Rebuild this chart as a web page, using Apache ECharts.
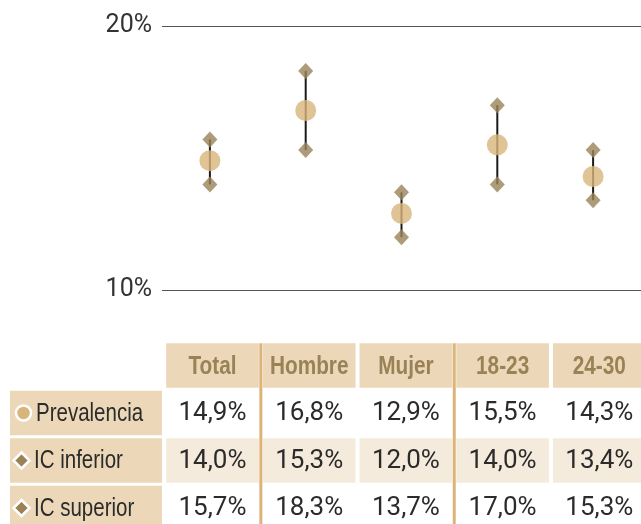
<!DOCTYPE html>
<html>
<head>
<meta charset="utf-8">
<script src="https://cdn.jsdelivr.net/npm/echarts@6/dist/echarts.min.js"></script>
<style>
html,body{margin:0;padding:0;background:#fff;}
#chart{width:641px;height:524px;}
</style>
</head>
<body>
<div id="chart"></div>
<script>
// ---- data ----
var categories = ['Total', 'Hombre', 'Mujer', '18-23', '24-30'];
var prevalencia = [14.9, 16.8, 12.9, 15.5, 14.3];
var icInferior = [14.0, 15.3, 12.0, 14.0, 13.4];
var icSuperior = [15.7, 18.3, 13.7, 17.0, 15.3];
var rowLabels = ['Prevalencia', 'IC inferior', 'IC superior'];
var yMin = 10, yMax = 20, yInterval = 10;
var separatorsBefore = [1, 3]; // table column separators (left of these columns)

// ---- styles ----
var GOLD = '#d8b57c';
var BROWN = '#9a8257';
var CELL_BEIGE = '#ecd8b9';
var ROW_LIGHT = '#f5ebdc';
var SEP = '#dcb478';
var TEXT = '#2b2b2b';
var NARROW_SCALE = 0.82;

var rows = [prevalencia, icInferior, icSuperior];
function fmt(v) { return v.toFixed(1).replace('.', ',') + '%'; }

var tableData = [];
categories.forEach(function (c, ci) { tableData.push([ci, 0]); });
rows.forEach(function (arr, ri) {
  arr.forEach(function (v, ci) { tableData.push([ci, ri + 1]); });
});
var labelData = rowLabels.map(function (l, ri) { return [0, ri + 1]; });

var chart = echarts.init(document.getElementById('chart'));
chart.setOption({
  animation: false,
  grid: [
    { left: 162, right: 0, top: 26, bottom: 234, outerBoundsMode: 'none' },
    { left: 164.15, width: 483.5, top: 341.75, height: 190, outerBoundsMode: 'none' }
  ],
  xAxis: [
    { type: 'category', data: categories, gridIndex: 0, boundaryGap: true,
      axisLine: { show: false }, axisTick: { show: false }, axisLabel: { show: false } },
    { type: 'category', data: categories, gridIndex: 1, show: false }
  ],
  yAxis: [
    { type: 'value', gridIndex: 0, min: yMin, max: yMax, interval: yInterval,
      axisLine: { show: false }, axisTick: { show: false },
      splitLine: { lineStyle: { color: '#555', width: 1 } },
      axisLabel: { formatter: '{value}%', margin: 10, color: '#333',
        fontFamily: 'Roboto', fontSize: 25 } },
    { type: 'category', gridIndex: 1, show: false, inverse: true,
      data: ['header'].concat(rowLabels) }
  ],
  series: [
    {
      type: 'custom', xAxisIndex: 0, yAxisIndex: 0, z: 2,
      data: categories.map(function (c, i) { return [i, icInferior[i], icSuperior[i]]; }),
      renderItem: function (params, api) {
        var a = api.coord([api.value(0), api.value(1)]);
        var b = api.coord([api.value(0), api.value(2)]);
        return { type: 'line', shape: { x1: a[0], y1: a[1], x2: b[0], y2: b[1] },
          style: { stroke: '#1a1a1a', lineWidth: 2 } };
      }
    },
    { type: 'scatter', name: 'IC inferior', xAxisIndex: 0, yAxisIndex: 0, z: 3,
      symbol: 'diamond', symbolSize: [15, 16], itemStyle: { color: BROWN }, data: icInferior },
    { type: 'scatter', name: 'IC superior', xAxisIndex: 0, yAxisIndex: 0, z: 3,
      symbol: 'diamond', symbolSize: [15, 16], itemStyle: { color: BROWN }, data: icSuperior },
    { type: 'scatter', name: 'Prevalencia', xAxisIndex: 0, yAxisIndex: 0, z: 4,
      symbol: 'circle', symbolSize: 21, itemStyle: { color: GOLD }, data: prevalencia },
    // table cells
    {
      type: 'custom', xAxisIndex: 1, yAxisIndex: 1, z: 2, data: tableData,
      renderItem: function (params, api) {
        var ci = api.value(0), ri = api.value(1);
        var p = api.coord([ci, ri]);
        var sz = api.size([1, 1]);
        var isHeader = ri === 0;
        var bg = isHeader ? CELL_BEIGE : (ri === 2 ? ROW_LIGHT : '#ffffff');
        var text = isHeader ? categories[ci] : fmt(rows[ri - 1][ci]);
        return { type: 'group', children: [
          { type: 'rect', shape: { x: p[0] - sz[0] / 2 + 2, y: p[1] - sz[1] / 2 + 1.5,
              width: sz[0] - 4, height: sz[1] - 3 }, style: { fill: bg } },
          { type: 'text', x: p[0], y: p[1] + 1, scaleX: isHeader ? 0.8 : 1.04,
            style: { text: text, x: 0, y: 0,
              align: 'center', verticalAlign: 'middle',
              fill: isHeader ? BROWN : TEXT,
              font: isHeader ? 'bold 26px "Liberation Sans"' : '25px Roboto' } }
        ] };
      }
    },
    // row label cells
    {
      type: 'custom', xAxisIndex: 1, yAxisIndex: 1, z: 2, data: labelData,
      renderItem: function (params, api) {
        var ri = api.value(1);
        var p = api.coord([0, ri]);
        var sz = api.size([1, 1]);
        var top = p[1] - sz[1] / 2 + 1.5, h = sz[1] - 3;
        var icon = ri === 1
          ? { type: 'circle', shape: { cx: 23.5, cy: p[1], r: 7.5 },
              style: { fill: GOLD, stroke: '#fff', lineWidth: 2.5 } }
          : { type: 'polygon', shape: { points: [[21.5, p[1] - 8], [29.5, p[1]], [21.5, p[1] + 8], [13.5, p[1]]] },
              style: { fill: BROWN, stroke: '#fff', lineWidth: 2.5 } };
        return { type: 'group', children: [
          { type: 'rect', shape: { x: 10, y: top, width: 152, height: h }, style: { fill: CELL_BEIGE } },
          icon,
          { type: 'text', x: ri === 1 ? 36 : 34, y: p[1] + 1, scaleX: NARROW_SCALE,
            style: { text: rowLabels[ri - 1], x: 0, y: 0,
              align: 'left', verticalAlign: 'middle', fill: TEXT, font: '25px "Liberation Sans"' } }
        ] };
      }
    },
    // column separators
    {
      type: 'custom', xAxisIndex: 1, yAxisIndex: 1, z: 3,
      data: separatorsBefore.map(function (c) { return [c, 0]; }),
      renderItem: function (params, api) {
        var p = api.coord([api.value(0), 0]);
        var sz = api.size([1, 1]);
        var x = p[0] - sz[0] / 2;
        return { type: 'rect', shape: { x: x - 1.5, y: p[1] - sz[1] / 2 + 1.5, width: 3, height: 200 },
          style: { fill: SEP } };
      }
    }
  ]
});
</script>
</body>
</html>
